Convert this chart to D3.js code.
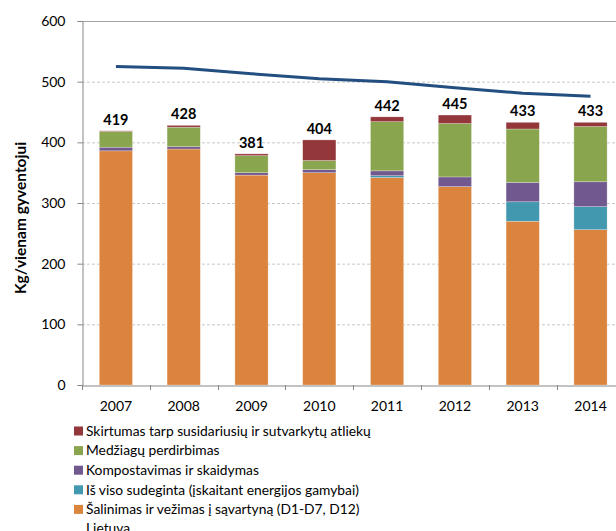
<!DOCTYPE html>
<html>
<head>
<meta charset="utf-8">
<script src="https://cdn.jsdelivr.net/npm/d3@7"></script>
<style>
  body { margin: 0; background: #fff; }
  text { font-family: Lato, "Open Sans", sans-serif; fill: #000; }
</style>
</head>
<body>
<div id="chart"></div>
<script>
// data (kg per inhabitant)
const years = ['2007', '2008', '2009', '2010', '2011', '2012', '2013', '2014'];
const landfill    = [386, 389, 346, 350, 342, 327, 270, 256];
const incinerated = [0, 0, 0, 0, 3, 0, 32, 38];
const composted   = [6, 4, 4, 5, 8, 16, 32, 41];
const recycled    = [26, 32, 28, 15, 81, 88, 88, 91];
const difference  = [1, 3, 3, 34, 8, 14, 11, 7];
const totals      = [419, 428, 381, 404, 442, 445, 433, 433];
const lietuva     = [525, 522, 513, 505, 500, 490, 481, 476];
const yTicks = [0, 100, 200, 300, 400, 500, 600];

const seriesKeys = ['landfill', 'incinerated', 'composted', 'recycled', 'difference'];
const seriesNames = {
  difference: 'Skirtumas tarp susidariusių ir sutvarkytų atliekų',
  recycled: 'Medžiagų perdirbimas',
  composted: 'Kompostavimas ir skaidymas',
  incinerated: 'Iš viso sudeginta (įskaitant energijos gamybai)',
  landfill: 'Šalinimas ir vežimas į sąvartyną (D1-D7, D12)'
};
const colors = {
  landfill: '#DB843D',
  incinerated: '#4198AF',
  composted: '#71588F',
  recycled: '#89A54E',
  difference: '#93373A'
};

const rows = years.map((y, i) => ({
  year: y,
  landfill: landfill[i],
  incinerated: incinerated[i],
  composted: composted[i],
  recycled: recycled[i],
  difference: difference[i]
}));

const width = 616, height = 531;
const left = 82, bandW = 67.8;

const svg = d3.select('#chart').append('svg')
  .attr('width', width)
  .attr('height', height);

const x = d3.scaleBand()
  .domain(years)
  .range([left, left + bandW * years.length])
  .padding(0);

const y = d3.scaleLinear()
  .domain([0, 600])
  .range([385, 21]);

/* gridlines */
svg.append('g')
  .selectAll('line')
  .data(yTicks.filter(t => t > 0))
  .enter().append('line')
  .attr('x1', left)
  .attr('x2', width)
  .attr('y1', d => y(d) + 0.5)
  .attr('y2', d => y(d) + 0.5)
  .attr('stroke', d => d === 600 ? '#a6a6a6' : '#c8c8c8')
  .attr('stroke-dasharray', d => d === 600 ? null : '3,2')
  .attr('stroke-width', 1);

/* stacked bars */
const stack = d3.stack().keys(seriesKeys);
const stacked = stack(rows);
const barW = x.bandwidth() * 0.49;

svg.append('g')
  .selectAll('g')
  .data(stacked).enter()
  .append('g')
  .attr('fill', d => colors[d.key])
  .selectAll('rect')
  .data(d => d).enter()
  .append('rect')
  .attr('x', d => x(d.data.year) + (x.bandwidth() - barW) / 2)
  .attr('y', d => y(d[1]))
  .attr('width', barW)
  .attr('height', d => Math.max(0, y(d[0]) - y(d[1])))
  .attr('stroke', 'rgba(255,255,255,0.45)')
  .attr('stroke-width', 0.6);

/* total labels */
svg.append('g')
  .selectAll('text')
  .data(years).enter()
  .append('text')
  .attr('x', d => x(d) + x.bandwidth() / 2)
  .attr('y', (d, i) => y(d3.sum(seriesKeys, k => rows[i][k])) - 6)
  .attr('text-anchor', 'middle')
  .style('font-size', '14.5px')
  .style('font-weight', 'bold')
  .text((d, i) => totals[i]);

/* Lietuva line */
const line = d3.line()
  .x((d, i) => x(years[i]) + x.bandwidth() / 2)
  .y(d => y(d));

svg.append('path')
  .attr('d', line(lietuva))
  .attr('fill', 'none')
  .attr('stroke', '#234E80')
  .attr('stroke-width', 3);

/* axes */
const yAxis = d3.axisLeft(y).tickValues(yTicks).tickSize(5).tickPadding(12);
const gy = svg.append('g')
  .attr('transform', `translate(${left + 0.5},0)`)
  .call(yAxis);
gy.select('.domain').attr('stroke', '#868686');
gy.selectAll('.tick line').attr('stroke', '#868686');
gy.selectAll('.tick text')
  .style('font-size', '14px')
  .style('font-family', 'Lato, sans-serif');

const xAxis = d3.axisBottom(x).tickSize(0).tickPadding(16);
const gx = svg.append('g')
  .attr('transform', `translate(0,${y(0) + 0.5})`)
  .call(xAxis);
gx.select('.domain').attr('stroke', '#868686');
gx.selectAll('.tick text')
  .style('font-size', '14px')
  .style('font-family', 'Lato, sans-serif');

// tick marks at band boundaries
svg.append('g')
  .selectAll('line')
  .data(years.concat(['end'])).enter()
  .append('line')
  .attr('x1', (d, i) => Math.round(left + i * x.step()) + 0.5)
  .attr('x2', (d, i) => Math.round(left + i * x.step()) + 0.5)
  .attr('y1', y(0))
  .attr('y2', y(0) + 5)
  .attr('stroke', '#868686');

/* y title */
svg.append('text')
  .attr('transform', 'translate(26,218) rotate(-90)')
  .attr('text-anchor', 'middle')
  .style('font-size', '15.5px')
  .style('font-weight', 'bold')
  .text('Kg/vienam gyventojui');

/* legend */
const legendOrder = ['difference', 'recycled', 'composted', 'incinerated', 'landfill'];
const legend = svg.append('g').attr('transform', 'translate(74,431)');
legendOrder.forEach((k, i) => {
  const g = legend.append('g').attr('transform', `translate(0,${i * 19.6})`);
  g.append('rect')
    .attr('x', 0).attr('y', -4.5)
    .attr('width', 9).attr('height', 9)
    .attr('fill', colors[k]);
  g.append('text')
    .attr('x', 12).attr('y', 4.8)
    .style('font-size', '13.8px')
    .text(seriesNames[k]);
});
legend.append('text')
  .attr('x', 12).attr('y', 5 * 19.6 + 3.5)
  .style('font-size', '13.8px')
  .text('Lietuva');
</script>
</body>
</html>
